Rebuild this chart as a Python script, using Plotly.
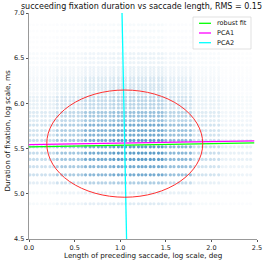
import numpy as np
import plotly.graph_objects as go

# ---------------- data ----------------
row_y = [4.89, 5.01, 5.12, 5.21, 5.30, 5.38, 5.45, 5.52, 5.59, 5.65, 5.70, 5.76,
         5.81, 5.86, 5.90, 5.95, 5.99, 6.03, 6.07, 6.11, 6.15, 6.18, 6.21, 6.25,
         6.28, 6.31, 6.34, 6.37, 6.40, 6.45, 6.50, 6.55, 6.62, 6.68, 6.73, 6.80, 6.87]
col_x = [0.01, 0.05, 0.09, 0.14, 0.18, 0.23, 0.27, 0.31, 0.36, 0.40, 0.45, 0.49,
         0.54, 0.58, 0.62, 0.67, 0.71, 0.76, 0.80, 0.84, 0.89, 0.93, 0.98, 1.02,
         1.06, 1.11, 1.15, 1.20, 1.24, 1.28, 1.33, 1.37, 1.42, 1.46, 1.50, 1.55,
         1.59, 1.64, 1.68, 1.72, 1.77, 1.81, 1.86, 1.90, 1.94, 1.99, 2.03, 2.08,
         2.12, 2.16, 2.21, 2.25, 2.30, 2.34, 2.39, 2.43]

dens_x_edges = [0.0, 0.3, 0.6, 0.9, 1.2, 1.5, 1.8, 2.1, 2.5]
dens_y_edges = [4.8, 5.05, 5.2, 5.35, 5.5, 5.65, 5.8, 5.95, 6.1, 6.3, 6.6, 7.0]
density = [
    [0.04, 0.08, 0.12, 0.15, 0.15, 0.10, 0.04, 0.02],  # 4.80-5.05
    [0.12, 0.22, 0.32, 0.36, 0.36, 0.26, 0.10, 0.04],  # 5.05-5.20
    [0.22, 0.38, 0.52, 0.62, 0.62, 0.46, 0.20, 0.08],  # 5.20-5.35
    [0.26, 0.42, 0.62, 0.72, 0.72, 0.52, 0.24, 0.10],  # 5.35-5.50
    [0.26, 0.42, 0.62, 0.72, 0.72, 0.52, 0.24, 0.10],  # 5.50-5.65
    [0.20, 0.36, 0.55, 0.62, 0.62, 0.45, 0.20, 0.08],  # 5.65-5.80
    [0.15, 0.28, 0.40, 0.46, 0.46, 0.30, 0.14, 0.06],  # 5.80-5.95
    [0.10, 0.18, 0.26, 0.30, 0.30, 0.20, 0.09, 0.04],  # 5.95-6.10
    [0.05, 0.09, 0.14, 0.17, 0.17, 0.11, 0.05, 0.02],  # 6.10-6.30
    [0.03, 0.05, 0.07, 0.09, 0.09, 0.06, 0.03, 0.01],  # 6.30-6.60
    [0.01, 0.02, 0.03, 0.04, 0.04, 0.02, 0.01, 0.00],  # 6.60-7.00
]

fit_x = [0.0, 2.47]
robust_y = [5.518, 5.563]
pca1_y = [5.544, 5.585]
pca2_x = [1.02, 1.07]
pca2_y = [7.0, 4.5]

ell_center = [1.05, 5.555]
ell_radii = [0.855, 0.593]

title_text = "succeeding fixation duration vs saccade length, RMS = 0.15"
x_title = "Length of preceding saccade, log scale, deg"
y_title = "Duration of fixation, log scale, ms"
x_ticks = [0.0, 0.5, 1.0, 1.5, 2.0, 2.5]
y_ticks = [4.5, 5.0, 5.5, 6.0, 6.5, 7.0]
legend_names = ["robust fit", "PCA1", "PCA2"]
legend_colors = ["#00ff00", "#ff00ff", "#00ffff"]

# ---------------- layout geometry (pixels) ----------------
W, H = 268, 263
L, R, T, B = 29, 11, 13, 24
PW, PH = W - L - R, H - T - B


def px(xp):
    return (xp - L) / PW


def py(yp):
    return (H - B - yp) / PH


# ---------------- build scatter table ----------------
xs, ys, cols = [], [], []
for y in row_y:
    yi = int(np.searchsorted(dens_y_edges, y, side="right") - 1)
    for x in col_x:
        xi = int(np.searchsorted(dens_x_edges, x, side="right") - 1)
        a = density[yi][xi]
        if a <= 0:
            continue
        xs.append(x)
        ys.append(y)
        cols.append(f"rgba(31,119,180,{a:.3f})")

FONT = "DejaVu Sans"
fig = go.Figure()
fig.add_trace(go.Scatter(x=xs, y=ys, mode="markers",
                         marker=dict(size=3.2, color=cols, line=dict(width=0)),
                         showlegend=False, hoverinfo="skip"))
fig.add_trace(go.Scatter(x=fit_x, y=robust_y, mode="lines",
                         line=dict(color=legend_colors[0], width=1.3), name=legend_names[0],
                         showlegend=False))
fig.add_trace(go.Scatter(x=fit_x, y=pca1_y, mode="lines",
                         line=dict(color=legend_colors[1], width=1.3), name=legend_names[1],
                         showlegend=False))
fig.add_trace(go.Scatter(x=pca2_x, y=pca2_y, mode="lines",
                         line=dict(color=legend_colors[2], width=1.3), name=legend_names[2],
                         showlegend=False))

fig.add_shape(type="circle", xref="x", yref="y",
              x0=ell_center[0] - ell_radii[0], x1=ell_center[0] + ell_radii[0],
              y0=ell_center[1] - ell_radii[1], y1=ell_center[1] + ell_radii[1],
              line=dict(color="#ff3030", width=1))

# manual legend (compact, as in the reference)
fig.add_shape(type="rect", xref="paper", yref="paper",
              x0=px(193), x1=px(251), y0=py(49), y1=py(17),
              line=dict(color="#d4d4d4", width=0.7), fillcolor="rgba(255,255,255,0.85)")
for i, (name, c) in enumerate(zip(legend_names, legend_colors)):
    yy = 23.3 + i * 9.7
    fig.add_shape(type="line", xref="paper", yref="paper",
                  x0=px(199), x1=px(211), y0=py(yy), y1=py(yy),
                  line=dict(color=c, width=1.3))
    fig.add_annotation(xref="paper", yref="paper", x=px(215), y=py(yy),
                       xanchor="left", yanchor="middle", text=name, showarrow=False,
                       font=dict(family=FONT, size=6.5, color="#111"))

# axis titles as annotations
fig.add_annotation(xref="paper", yref="paper", x=0.5, y=0, yshift=-16,
                   xanchor="center", yanchor="middle", text=x_title, showarrow=False,
                   font=dict(family=FONT, size=7.2, color="#111"))
fig.add_annotation(xref="paper", yref="paper", x=px(6.5), y=py(131),
                   xanchor="center", yanchor="middle", text=y_title, showarrow=False,
                   textangle=-90, font=dict(family=FONT, size=7.2, color="#111"))

fig.update_layout(
    width=W, height=H,
    margin=dict(l=L, r=R, t=T, b=B),
    paper_bgcolor="white", plot_bgcolor="white",
    font=dict(family=FONT, size=7, color="#222"),
    title=dict(text=title_text, x=141.5 / W, xanchor="center", y=1 - 6 / H, yanchor="middle",
               font=dict(family=FONT, size=8.0, color="#111")),
    showlegend=False,
)
fig.update_xaxes(range=[0, 2.5], tickvals=x_ticks, ticktext=[f"{v:.1f}" for v in x_ticks],
                 ticks="outside", ticklen=2.5, tickwidth=0.8, tickcolor="#555",
                 showgrid=False, zeroline=False, showline=True, linecolor="#999", linewidth=0.8,
                 tickfont=dict(size=6.5), automargin=False)
fig.update_yaxes(range=[4.5, 7.0], tickvals=y_ticks, ticktext=[f"{v:.1f}" for v in y_ticks],
                 ticks="outside", ticklen=2.5, tickwidth=0.8, tickcolor="#555",
                 showgrid=False, zeroline=False, showline=True, linecolor="#999", linewidth=0.8,
                 tickfont=dict(size=6.5), automargin=False)

fig.write_html("out.html", config={"displayModeBar": False},
               post_script="document.body.style.margin='0';")
